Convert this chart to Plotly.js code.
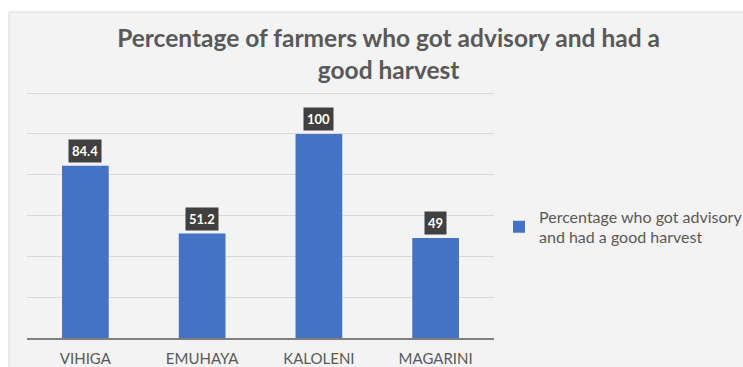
<!DOCTYPE html>
<html>
<head>
<meta charset="utf-8">
<script src="https://cdn.plot.ly/plotly-3.0.1.min.js"></script>
<style>html,body{margin:0;padding:0;background:#fff;}#chart{width:743px;height:367px;}</style>
</head>
<body>
<div id="chart"></div>
<script>
const categories = ["VIHIGA", "EMUHAYA", "KALOLENI", "MAGARINI"];
const values = [84.4, 51.2, 100, 49];
const valueLabels = ["84.4", "51.2", "100", "49"];
const seriesName = "Percentage who got advisory<br>and had a good harvest";
const chartTitle = "Percentage of farmers who got advisory and had a<br>good harvest";

const trace = {
  type: "bar",
  x: categories,
  y: values,
  name: seriesName,
  marker: {color: "#4472C4"},
  hoverinfo: "skip"
};

const annotations = categories.map((c, i) => ({
  x: c, y: values[i], xref: "x", yref: "y",
  text: "<b>" + valueLabels[i] + "</b>",
  showarrow: false,
  yanchor: "bottom",
  yshift: 3,
  bgcolor: "#404040",
  borderpad: 3,
  font: {family: "Lato, 'Open Sans', sans-serif", size: 13, color: "#ffffff"}
}));

const layout = {
  width: 743, height: 367,
  margin: {l: 27, r: 249, t: 89, b: 29, autoexpand: false},
  paper_bgcolor: "#ffffff",
  plot_bgcolor: "rgba(0,0,0,0)",
  showlegend: true,
  bargap: 0.6,
  title: {
    text: chartTitle,
    font: {family: "Lato, 'Open Sans', sans-serif", size: 24.5, color: "#595959", weight: "bold"},
    x: 0.523, xref: "container", xanchor: "center",
    y: 1 - 47/367, yref: "container", yanchor: "top"
  },
  xaxis: {
    type: "category",
    showgrid: false,
    showline: true, linecolor: "#7f7f7f", linewidth: 1.5,
    ticks: "",
    tickfont: {family: "Lato, 'Open Sans', sans-serif", size: 15, color: "#595959"},
    ticklabelstandoff: 6,
    fixedrange: true
  },
  yaxis: {
    range: [0, 122],
    tickvals: [20, 40, 60, 80, 100, 120],
    showticklabels: false,
    showgrid: true, gridcolor: "#d9d9d9", gridwidth: 1,
    zeroline: false,
    showline: false,
    fixedrange: true
  },
  legend: {
    xref: "container", x: 499 / 743, xanchor: "left",
    yref: "container", y: 1 - 227 / 367, yanchor: "middle",
    bgcolor: "rgba(0,0,0,0)",
    font: {family: "Lato, 'Open Sans', sans-serif", size: 16, color: "#595959"},
    itemwidth: 30
  },
  annotations: annotations,
  shapes: [{
    type: "rect", xref: "paper", yref: "paper", layer: "below",
    x0: (9 - 27) / 467, x1: 2, y0: -1, y1: (338 - 12) / 249,
    fillcolor: "#f3f3f3",
    line: {color: "#d9d9d9", width: 1}
  }]
};

Plotly.newPlot("chart", [trace], layout, {displayModeBar: false, staticPlot: true});
</script>
</body>
</html>
